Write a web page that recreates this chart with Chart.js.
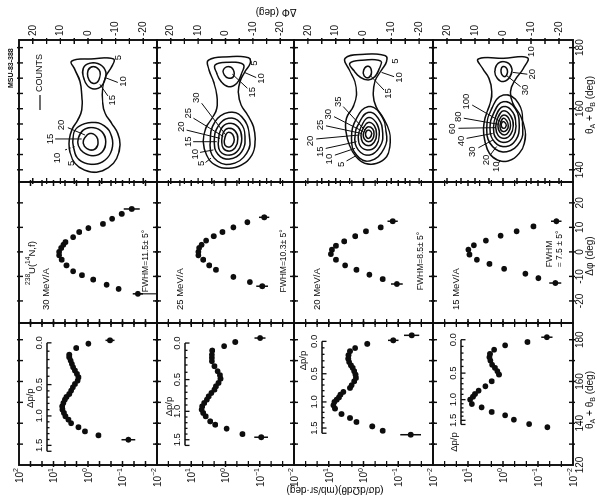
<!DOCTYPE html>
<html>
<head>
<meta charset="utf-8">
<title>238U(14N,f) fission fragment correlations</title>
<script src="https://cdn.jsdelivr.net/npm/chart.js@4.4.1/dist/chart.umd.min.js"></script>
<style>
  html, body { margin: 0; padding: 0; background: #fff; overflow: hidden; }
  /* figure is laid out upright, then turned a quarter turn */
  #fig { position: absolute; left: 0; top: 502px; width: 502px; height: 597px;
         transform-origin: 0 0; transform: rotate(-90deg); background: #fff; }
  #fig canvas { position: absolute; left: 0; top: 0; }
</style>
</head>
<body>
<div id="fig"></div>
<script>
// beam energies (MeV/A), one row each, top to bottom
const energies = [30, 25, 20, 15];
const fwhm = ['11.5', '10.3', '8.5', '7.5'];

// folding angle distributions: θA+θB (deg) and dσ/dΩdθ (mb/sr·deg)
const fold30 = [132.1,134.2,136.1,138.1,140.0,141.7,143.3,144.9,146.5,148.1,149.7,151.3,152.6,154.0,155.6,157.2,158.8,160.4,162.0,163.6,165.2,166.8,168.4,170.0,171.6,172.8,176.0,178.1,179.7];
const foldCs30 = [0.068,0.50,1.23,1.9,3.1,3.7,4.5,5.0,5.5,5.6,5.2,4.7,4.2,3.5,3.1,2.75,2.4,2.0,1.9,2.1,2.4,2.7,2.95,3.2,3.5,3.5,2.2,0.98,0.23];
const fold25 = [133.3,134.8,137.4,139.3,140.9,143.3,144.9,146.5,148.1,149.7,151.3,152.9,154.5,156.1,157.7,159.3,161.3,163.0,164.9,167.3,169.7,171.3,172.8,174.8,176.9,178.9,180.8];
const foldCs25 = [0.091,0.32,0.93,2.0,2.8,3.8,4.5,5.0,4.8,4.2,3.5,3.1,2.6,2.1,1.9,1.6,1.4,1.45,1.7,2.1,2.5,2.5,2.5,2.45,1.1,0.52,0.098];
const fold20 = [134.5,136.4,138.5,140.6,142.5,144.4,147.0,148.6,150.2,151.3,152.4,153.7,155.0,156.9,158.2,160.1,161.7,163.3,164.9,166.5,167.7,169.3,170.9,172.6,174.5,176.0,178.0,179.7,182.1];
const foldCs20 = [0.044,0.28,0.56,1.6,2.45,4.3,6.6,7.4,6.9,5.9,5.1,4.6,3.8,2.45,2.2,1.85,1.65,1.7,1.85,2.05,2.3,2.6,2.75,2.7,2.45,1.75,0.78,0.14,0.041];
const fold15 = [138.1,139.6,141.7,143.8,145.4,147.6,149.2,151.3,152.7,154.0,155.6,157.7,160.1,163.3,164.9,166.5,168.0,170.0,171.6,173.2,175.2,177.3,178.9,181.2];
const foldCs15 = [0.054,0.18,0.49,0.87,2.1,4.1,7.8,8.7,7.2,6.3,5.0,3.2,2.1,1.3,1.45,1.7,2.05,2.3,2.45,2.35,1.8,0.87,0.20,0.056];
// error bars: [point index, half length in decades]
const foldBars30 = [[0, 0.2], [28, 0.13]];
const foldBars25 = [[0, 0.2], [26, 0.16]];
const foldBars20 = [[0, 0.3], [27, 0.15], [28, 0.22]];
const foldBars15 = [[23, 0.16]];

// out-of-plane distributions: Δφ (deg) and dσ/dΩdθ
const phi30 = [-17.1,-15.1,-13.4,-11.3,-9.5,-7.9,-5.5,-3.2,-1.4,0,1.6,2.9,4.0,6.0,8.1,9.7,11.4,13.5,15.5,17.5];
const phiCs30 = [0.036,0.13,0.29,0.71,1.5,2.7,4.2,5.8,6.9,6.9,6.0,5.2,4.5,2.7,1.8,0.98,0.37,0.20,0.105,0.054];
const phi25 = [-14.0,-12.3,-10.2,-7.3,-5.5,-3.2,-1.4,0,1.6,2.9,4.6,6.4,8.1,10.0,12.1,14.1];
const phiCs25 = [0.085,0.195,0.59,1.9,3.0,4.5,6.2,6.2,5.9,5.0,3.7,2.2,1.23,0.59,0.23,0.074];
const phi20 = [-13.1,-11.1,-9.3,-7.3,-5.5,-3.2,-0.9,0.9,2.5,4.3,6.4,8.4,10.0,12.5];
const phiCs20 = [0.11,0.28,0.68,1.6,3.4,6.2,8.7,8.1,6.2,3.6,1.74,0.85,0.32,0.145];
const phi15 = [-12.7,-10.7,-8.9,-6.9,-4.9,-3.2,-1.1,0.9,2.7,4.6,6.6,8.4,10.4,12.5];
const phiCs15 = [0.032,0.098,0.23,0.93,2.45,5.6,9.1,9.8,6.8,3.1,1.17,0.41,0.135,0.030];
const phiBars30 = [[0, 0.15], [19, 0.23]];
const phiBars25 = [[0, 0.17], [15, 0.15]];
const phiBars20 = [[0, 0.17], [13, 0.15]];
const phiBars15 = [[0, 0.17], [13, 0.15]];

// Δp/p scale laid along θA+θB: labelled values and their folding angles
const dppLabels = [0, 0.5, 1.0, 1.5];
const dppEnd = 1.6;
const dppAt30 = [178.5, 158.5, 143.5, 129.4];
const dppAt25 = [178.4, 160.9, 145.7, 132.1];
const dppAt20 = [179.2, 163.7, 150.2, 137.7];
const dppAt15 = [180.0, 164.0, 151.3, 141.4];

// count contours, points are [θA+θB, Δφ]
const map30 = [
  [[175.6,5.9],[176.3,-1.3],[176.3,-9.2],[173.8,-8.6],[170.5,-6.4],[166.7,-5.3],[162.3,-5.3],[158.5,-6.2],[155.2,-8.6],[151.9,-10.8],[148.1,-11.6],[143.7,-10.4],[140.7,-7.4],[139.2,-3.1],[139.9,1.3],[142.1,4.7],[145.7,6.5],[149.8,6.8],[153.4,5.7],[156.3,3.7],[159.6,2.3],[164.5,2.3],[168.9,2.9],[172.7,4.7]],
  [[173.2,1.7],[174.9,-0.7],[174.5,-4.3],[172.1,-6.4],[168.9,-5.9],[166.7,-3.7],[166.9,-0.7],[169.4,1.3]],
  [[172.7,-0.1],[173.8,-1.9],[172.7,-4.0],[170.5,-4.3],[168.5,-3.1],[168.6,-1.1],[170.5,0.1]],
  [[151.4,5.3],[154.1,3.5],[155.5,-1.3],[154.4,-5.9],[150.8,-8.6],[146.5,-8.6],[143.2,-6.2],[141.8,-2.3],[142.7,2.3],[145.4,4.7]],
  [[150.3,3.5],[153.0,1.7],[153.8,-1.9],[152.3,-5.2],[149.2,-6.4],[145.9,-5.2],[144.6,-1.9],[145.7,1.7],[147.9,3.5]],
  [[150.3,1.3],[151.9,-0.7],[150.8,-3.1],[148.1,-3.5],[146.5,-1.9],[147.0,0.5],[148.7,1.7]]
];
const map25 = [
  [[175.9,6.2],[177.0,-1.1],[176.7,-8.4],[174.9,-9.0],[172.1,-7.1],[168.9,-5.3],[165.0,-4.7],[161.2,-5.7],[157.9,-8.1],[154.1,-10.2],[149.2,-10.8],[144.8,-9.6],[141.6,-5.9],[140.5,-1.1],[141.6,3.8],[144.8,6.9],[149.2,8.1],[153.6,7.2],[156.8,5.0],[160.1,3.2],[164.5,3.2],[168.9,4.4],[172.7,6.0]],
  [[174.3,3.8],[175.2,-1.1],[174.5,-6.5],[171.6,-5.9],[168.3,-4.1],[167.2,-1.1],[168.9,1.6],[171.6,3.2]],
  [[172.7,0.8],[173.8,-1.1],[172.7,-2.9],[170.5,-2.9],[170.0,-1.1],[171.0,0.4]],
  [[158.8,-1.1],[157.4,-5.9],[151.4,-8.7],[145.4,-7.7],[141.8,-1.7],[143.8,4.1],[149.2,5.6],[155.8,3.8]],
  [[156.9,-1.1],[155.5,-5.3],[150.9,-7.1],[145.9,-5.9],[143.5,-1.3],[145.1,2.8],[149.4,4.1],[154.4,2.6]],
  [[155.2,-1.1],[154.1,-4.5],[150.3,-5.9],[146.5,-4.7],[144.8,-1.4],[146.1,2.0],[149.4,2.6],[153.4,1.6]],
  [[153.6,-1.1],[152.7,-3.5],[150.1,-4.5],[147.2,-3.5],[146.1,-1.4],[147.0,0.8],[149.4,1.4],[152.3,0.8]],
  [[152.3,-1.1],[151.6,-2.6],[149.8,-3.2],[148.1,-2.5],[147.4,-1.3],[148.1,0.2],[149.8,0.4],[151.4,-0.1]]
];
const map20 = [
  [[176.5,6.6],[177.8,0.1],[177.4,-7.7],[175.4,-8.3],[172.7,-6.5],[168.9,-4.1],[164.5,-3.5],[160.7,-4.5],[156.9,-7.1],[152.5,-9.3],[148.1,-9.5],[144.3,-8.3],[142.1,-4.7],[142.1,-0.5],[144.3,2.7],[148.1,5.1],[152.5,6.3],[156.9,6.1],[160.7,3.7],[164.5,2.5],[168.9,3.1],[172.7,5.1]],
  [[174.9,4.9],[175.9,0.1],[175.6,-6.2],[173.2,-5.7],[170.5,-4.1],[169.4,-1.7],[170.2,1.0],[172.4,3.4]],
  [[173.4,-0.5],[173.8,-2.1],[172.1,-2.9],[170.5,-2.3],[170.2,-0.9],[171.6,0.1]],
  [[160.7,-1.7],[158.5,-5.9],[152.5,-8.1],[147.0,-7.4],[142.9,-2.3],[144.8,2.5],[150.3,4.3],[156.9,2.5]],
  [[158.8,-1.7],[156.9,-5.3],[151.9,-6.9],[147.6,-5.9],[144.8,-2.1],[146.5,1.9],[150.9,3.1],[155.5,1.5]],
  [[157.1,-1.7],[155.5,-4.5],[151.6,-5.7],[148.1,-4.7],[146.5,-2.1],[147.6,1.0],[150.9,1.9],[154.4,0.7]],
  [[155.5,-1.7],[154.4,-3.9],[151.6,-4.7],[149.0,-3.8],[147.9,-1.9],[149.0,0.3],[151.4,0.9],[153.6,0.1]],
  [[154.1,-1.7],[153.4,-3.3],[151.6,-3.8],[149.8,-3.1],[149.2,-1.7],[150.1,-0.3],[151.6,0.1],[153.0,-0.5]],
  [[153.0,-1.7],[152.5,-2.7],[151.6,-2.9],[150.5,-2.3],[150.3,-1.5],[151.1,-0.8],[152.2,-0.8]]
];
const map15 = [
  [[176.3,8.8],[176.5,-0.1],[176.7,-8.7],[173.2,-7.3],[169.4,-4.3],[165.6,-2.7],[161.8,-3.5],[157.9,-6.1],[153.0,-7.9],[148.6,-7.6],[145.4,-5.8],[142.9,-1.9],[143.2,2.0],[145.4,4.9],[149.2,6.4],[153.6,7.0],[157.9,6.1],[161.8,4.6],[165.6,4.0],[169.9,5.0],[173.2,7.3]],
  [[174.9,1.7],[175.2,-1.3],[173.2,-3.1],[170.5,-2.5],[168.9,-0.1],[169.9,2.0],[172.4,2.9]],
  [[173.8,0.1],[173.2,-1.3],[171.6,-1.5],[170.5,-0.7],[171.3,0.5],[172.7,0.7]],
  [[164.5,-0.1],[161.8,-5.5],[154.7,-7.0],[149.2,-6.1],[145.9,-1.3],[147.6,3.7],[153.0,5.8],[160.1,4.0]],
  [[162.3,-0.1],[160.1,-4.3],[154.4,-5.8],[149.8,-4.6],[147.6,-1.1],[149.0,2.9],[153.4,4.6],[158.8,3.2]],
  [[160.7,-0.1],[158.8,-3.5],[154.4,-4.6],[150.9,-3.7],[149.0,-0.9],[150.1,2.3],[153.6,3.4],[157.7,2.5]],
  [[159.3,-0.1],[157.7,-2.7],[154.4,-3.7],[151.6,-2.7],[150.3,-0.7],[151.2,1.7],[153.8,2.6],[156.9,1.9]],
  [[157.9,-0.1],[156.9,-2.0],[154.4,-2.7],[152.3,-1.9],[151.4,-0.5],[152.3,1.1],[154.1,1.8],[156.3,1.3]],
  [[156.9,-0.1],[156.1,-1.3],[154.4,-1.9],[153.0,-1.3],[152.5,-0.2],[153.1,0.8],[154.4,1.1],[155.8,0.7]],
  [[155.8,-0.1],[155.2,-0.9],[154.3,-1.1],[153.6,-0.5],[153.9,0.4],[154.9,0.6]]
];

// contour level labels: [text, θ, Δφ, leader from θ, Δφ, to θ, Δφ, dashed]
const notes30 = [
  ['5', 176.7, -11.0],
  ['10', 168.9, -12.8, 170.2, -6.2, 168.6, -10.8],
  ['15', 162.8, -8.8, 168.0, -4.3, 164.2, -7.2],
  ['20', 154.7, 9.5, 153.8, 7.3, 151.4, 1.1],
  ['15', 150.1, 13.6, 150.1, 11.9, 150.1, 2.3],
  ['10', 143.9, 11.0, 146.5, 8.3, 147.6, 4.9, true],
  ['5', 142.1, 5.9]
];
const notes25 = [
  ['5', 174.9, -10.5],
  ['10', 169.9, -13.0, 171.9, -6.9, 170.2, -11.2],
  ['15', 165.4, -9.8, 171.3, -2.5, 166.7, -8.0],
  ['30', 163.6, 10.5, 161.8, 8.7, 151.4, -0.1],
  ['25', 158.5, 13.5, 156.9, 11.7, 150.9, 0.8],
  ['20', 154.1, 16.0, 153.0, 14.2, 150.3, 2.0],
  ['15', 149.2, 13.6, 149.2, 11.8, 149.2, 3.2],
  ['10', 145.1, 11.1, 145.7, 9.3, 146.5, 4.4],
  ['5', 142.1, 8.7, 142.4, 7.3, 143.8, 5.3]
];
const notes20 = [
  ['5', 175.6, -11.3],
  ['10', 170.2, -12.9, 171.9, -6.5, 170.5, -11.0],
  ['15', 165.0, -8.9, 171.0, -2.3, 166.1, -7.4],
  ['35', 162.3, 9.0, 160.7, 7.3, 153.0, -0.5],
  ['30', 158.2, 12.7, 157.4, 10.6, 152.5, 0.1],
  ['25', 154.7, 15.6, 154.4, 13.5, 151.9, 0.7],
  ['20', 149.4, 19.2, 150.1, 17.0, 151.4, 1.5],
  ['15', 145.9, 15.6, 147.0, 13.6, 149.2, 2.5],
  ['10', 143.5, 12.3, 144.8, 10.3, 147.0, 3.1],
  ['5', 141.8, 7.9, 142.9, 6.1, 144.6, 2.7]
];
const notes15 = [
  ['10', 178.7, -10.2],
  ['20', 171.3, -10.6, 171.9, -3.5, 171.3, -8.7],
  ['30', 166.1, -7.9, 171.0, -1.1, 167.2, -6.3],
  ['100', 162.3, 13.0, 161.2, 11.0, 155.8, 0.8],
  ['80', 157.4, 16.0, 156.9, 14.0, 154.9, 1.7],
  ['60', 153.4, 18.0, 153.6, 15.9, 153.8, 2.5],
  ['40', 149.4, 14.8, 150.3, 13.0, 151.9, 3.7],
  ['30', 145.9, 10.8, 147.2, 8.8, 149.8, 3.5],
  ['20', 143.2, 6.1, 144.8, 4.6, 147.6, 2.3],
  ['10', 141.0, 2.3, 142.2, 1.6, 143.1, 1.0]
];

// axis ticks
const foldTicks = [130, 140, 150, 160, 170, 180];
const foldTickLabels = [120, 140, 160, 180];
const phiTicks = [-20, -10, 0, 10, 20];
const phiTickLabels = ['-20', '-10', '0', '10', '20'];
const mapThTicks = [140, 145, 150, 155, 160, 165, 170, 175, 180];
const mapThLabels = [140, 160, 180];
const mapPhiTicks = [-20, -15, -10, -5, 0, 5, 10, 15, 20];
const mapPhiLabels = ['20', '10', '0', '-10', '-20'];
const logTickExp = [-5, -4, -3, -2, -1, 0, 1, 2, 3, 4, 5];   // thirds of a decade
const logLabels = [[100, '2'], [10, '1'], [1, '0'], [0.1, '\u22121'], [0.01, '\u22122']];

const foldX = [fold30, fold25, fold20, fold15];
const foldY = [foldCs30, foldCs25, foldCs20, foldCs15];
const foldBars = [foldBars30, foldBars25, foldBars20, foldBars15];
const phiX = [phi30, phi25, phi20, phi15];
const phiY = [phiCs30, phiCs25, phiCs20, phiCs15];
const phiBars = [phiBars30, phiBars25, phiBars20, phiBars15];
const dppAt = [dppAt30, dppAt25, dppAt20, dppAt15];
const maps = [map30, map25, map20, map15];
const mapNotes = [notes30, notes25, notes20, notes15];

const ink = '#0d0d0d';
const FONT = '"Liberation Sans", "DejaVu Sans", Arial, sans-serif';
const W = 502, H = 597;
const colX = { fold: [37, 179], phi: [179, 320], map: [320, 462] };
const rowY = [[19, 157], [157, 294], [294, 433], [433, 573]];
const labelY = 580;
const fig = document.getElementById('fig');

// text made of plain / superscript / subscript pieces
function rich(ctx, segs, x, y, size, align, rot) {
  let w = 0;
  const parts = segs.map(([t, k]) => {
    const s = k ? size * 0.7 : size;
    ctx.font = s + 'px ' + FONT;
    const m = ctx.measureText(t).width;
    w += m;
    return { t, k, s, m };
  });
  ctx.save();
  ctx.translate(x, y);
  if (rot) ctx.rotate(rot);
  let cx = align === 'center' ? -w / 2 : align === 'right' ? -w : 0;
  ctx.fillStyle = ink;
  ctx.textAlign = 'left';
  ctx.textBaseline = 'middle';
  for (const p of parts) {
    ctx.font = p.s + 'px ' + FONT;
    const dy = p.k === 'sup' ? -size * 0.38 : p.k === 'sub' ? size * 0.3 : 0;
    ctx.fillText(p.t, cx, dy);
    cx += p.m;
  }
  ctx.restore();
}

function frame(ctx, a, sx, sy, xt, yt) {
  ctx.strokeStyle = ink;
  ctx.lineWidth = 1.9;
  ctx.strokeRect(a.left, a.top, a.right - a.left, a.bottom - a.top);
  ctx.lineWidth = 1.4;
  ctx.beginPath();
  for (const v of xt) {
    const p = sx.getPixelForValue(v);
    ctx.moveTo(p, a.top - 2); ctx.lineTo(p, a.top + 4);
    ctx.moveTo(p, a.bottom + 2); ctx.lineTo(p, a.bottom - 4);
  }
  for (const v of yt) {
    const p = sy.getPixelForValue(v);
    ctx.moveTo(a.left - 2, p); ctx.lineTo(a.left + 4, p);
    ctx.moveTo(a.right + 2, p); ctx.lineTo(a.right - 4, p);
  }
  ctx.stroke();
}

function errorBars(ctx, sx, sy, xs, ys, bars) {
  ctx.strokeStyle = ink;
  ctx.lineWidth = 1.5;
  ctx.beginPath();
  for (const [i, d] of bars) {
    const px = sx.getPixelForValue(xs[i]);
    ctx.moveTo(px, sy.getPixelForValue(ys[i] * Math.pow(10, d)));
    ctx.lineTo(px, sy.getPixelForValue(ys[i] / Math.pow(10, d)));
  }
  ctx.stroke();
}

// the little Δp/p scale drawn inside a folding-angle panel
function dppScale(ctx, a, sx, at, title) {
  const th = v => {
    const k = Math.min(Math.floor(v / 0.5), dppLabels.length - 2);
    return at[k] + (v - dppLabels[k]) / 0.5 * (at[k + 1] - at[k]);
  };
  const px = v => sx.getPixelForValue(th(v));
  const y = a.top + 28;
  ctx.strokeStyle = ink;
  ctx.lineWidth = 1.3;
  ctx.beginPath();
  ctx.moveTo(px(0), y);
  ctx.lineTo(px(dppEnd), y);
  for (let i = 0; i <= 16; i++) {
    const v = i / 10;
    const len = (i % 5 === 0 || i === 16) ? 4.5 : 2.5;
    ctx.moveTo(px(v), y);
    ctx.lineTo(px(v), y + len);
  }
  ctx.stroke();
  ctx.fillStyle = ink;
  ctx.font = '9.5px ' + FONT;
  ctx.textAlign = 'center';
  ctx.textBaseline = 'middle';
  dppLabels.forEach(v => ctx.fillText(v.toFixed(1), px(v), y - 7.5));
  ctx.fillText('\u0394p/p', sx.getPixelForValue(title[0]), a.top + title[1]);
}

function notesOn(ctx, sx, sy, notes) {
  ctx.strokeStyle = ink;
  ctx.fillStyle = ink;
  ctx.lineWidth = 1;
  for (const [t, x, y, x1, y1, x2, y2, dashed] of notes) {
    if (x1 !== undefined) {
      ctx.setLineDash(dashed ? [2, 2] : []);
      ctx.beginPath();
      ctx.moveTo(sx.getPixelForValue(x1), sy.getPixelForValue(y1));
      ctx.lineTo(sx.getPixelForValue(x2), sy.getPixelForValue(y2));
      ctx.stroke();
      ctx.setLineDash([]);
    }
    ctx.font = '9.5px ' + FONT;
    ctx.textAlign = 'center';
    ctx.textBaseline = 'middle';
    ctx.fillText(t, sx.getPixelForValue(x), sy.getPixelForValue(y));
  }
}

function addChart(col, row, datasets, xScale, yScale, draw) {
  const c = document.createElement('canvas');
  c.width = W;
  c.height = H;
  fig.appendChild(c);
  const [x0, x1] = colX[col], [y0, y1] = rowY[row];
  return new Chart(c, {
    type: 'scatter',
    data: { datasets },
    options: {
      responsive: false,
      animation: false,
      events: [],
      layout: { padding: { left: x0, right: W - x1, top: y0, bottom: H - y1 } },
      plugins: { legend: { display: false }, tooltip: { enabled: false } },
      scales: {
        x: Object.assign({ display: false }, xScale),
        y: Object.assign({ display: false }, yScale)
      }
    },
    plugins: [{
      id: 'panelDeco',
      afterDatasetsDraw: ch => draw(ch.ctx, ch.chartArea, ch.scales.x, ch.scales.y)
    }]
  });
}

function dots(xs, ys) {
  return {
    data: xs.map((x, i) => ({ x, y: ys[i] })),
    pointRadius: 2.9,
    pointBackgroundColor: ink,
    pointBorderWidth: 0,
    showLine: false,
    clip: false
  };
}

// closed contour: wrap three points so the spline joins smoothly, hide the overlap
function ring(pts) {
  const n = pts.length;
  const wrapped = pts.concat([pts[0], pts[1], pts[2]]);
  return {
    data: wrapped.map(([x, y]) => ({ x, y })),
    showLine: true,
    pointRadius: 0,
    borderColor: ink,
    borderWidth: 1.5,
    tension: 0.45,
    segment: {
      borderColor: s => (s.p0DataIndex === 0 || s.p1DataIndex === n + 2) ? 'rgba(0,0,0,0)' : ink
    }
  };
}

const logY = { type: 'logarithmic', min: 0.01, max: 100 };
const logTicks = logTickExp.map(k => Math.pow(10, k / 3));
const thetaTitle = [['\u03b8'], ['A', 'sub'], [' + \u03b8'], ['B', 'sub'], [' (deg)']];
const dppTitle = [[152, 11], [148, 12], [170, 9], [131, 21]];

energies.forEach((e, r) => {
  // folding angle
  addChart('fold', r, [dots(foldX[r], foldY[r])], { type: 'linear', min: 120, max: 188 }, logY,
    (ctx, a, sx, sy) => {
      frame(ctx, a, sx, sy, foldTicks, logTicks);
      errorBars(ctx, sx, sy, foldX[r], foldY[r], foldBars[r]);
      dppScale(ctx, a, sx, dppAt[r], dppTitle[r]);
      logLabels.forEach(([v, ex]) => {
        if (r > 0 && v === 100) return;
        rich(ctx, [['10'], [ex, 'sup']], a.left - 3, sy.getPixelForValue(v) + 1, 10, 'right');
      });
      if (r === 3) {
        ctx.fillStyle = ink;
        ctx.font = '10px ' + FONT;
        ctx.textAlign = 'center';
        ctx.textBaseline = 'middle';
        foldTickLabels.forEach(v => ctx.fillText(String(v), sx.getPixelForValue(v), labelY));
        rich(ctx, thetaTitle, 102, 590, 10, 'center');
      }
      if (r === 0) {
        ctx.fillStyle = ink;
        ctx.font = 'bold 7px ' + FONT;
        ctx.textAlign = 'left';
        ctx.textBaseline = 'middle';
        ctx.fillText('MSU-83-388', 414, 11);
        rich(ctx, [['(d\u03c3/d\u03a9d\u03b8)(mb/sr\u00b7deg)']], 12, 335, 10, 'center', -Math.PI / 2);
        rich(ctx, [['\u0394\u03a6 (deg)']], 490, 276, 10, 'center', -Math.PI / 2);
      }
    });

  // out-of-plane angle
  addChart('phi', r, [dots(phiX[r], phiY[r])], { type: 'linear', min: -29, max: 28.5 }, logY,
    (ctx, a, sx, sy) => {
      frame(ctx, a, sx, sy, phiTicks, logTicks);
      errorBars(ctx, sx, sy, phiX[r], phiY[r], phiBars[r]);
      ctx.fillStyle = ink;
      ctx.textBaseline = 'middle';
      ctx.textAlign = 'left';
      ctx.font = '9.5px ' + FONT;
      if (r === 0) {
        rich(ctx, [['238', 'sup'], ['U('], ['14', 'sup'], ['N,f)']], a.left + 38, a.top + 13, 9.5, 'left');
        ctx.font = '9.5px ' + FONT;
        ctx.fillText(e + ' MeV/A', a.left + 13, a.top + 27);
        // vertical marker from the last point down to the axis
        const px = sx.getPixelForValue(phiX[r][0]);
        ctx.strokeStyle = ink;
        ctx.lineWidth = 1.1;
        ctx.beginPath();
        ctx.moveTo(px, sy.getPixelForValue(phiY[r][0]));
        ctx.lineTo(px, a.bottom);
        ctx.stroke();
      } else {
        ctx.fillText(e + ' MeV/A', a.left + 13, a.top + 23);
      }
      ctx.font = '8.5px ' + FONT;
      ctx.textAlign = 'center';
      if (r === 3) {
        ctx.fillText('FWHM', a.left + 69, a.top + 117);
        ctx.fillText('= ' + fwhm[r] + ' \u00b1 5\u00b0', a.left + 74, a.top + 127);
        ctx.font = '10px ' + FONT;
        phiTicks.forEach((v, i) => ctx.fillText(phiTickLabels[i], sx.getPixelForValue(v), labelY));
        rich(ctx, [['\u0394\u03c6 (deg)']], 246, 590, 10, 'center');
      } else {
        ctx.fillText('FWHM=' + fwhm[r] + '\u00b1 5\u00b0', a.left + 62, a.top + 127);
      }
    });

  // counts map
  addChart('map', r, maps[r].map(ring), { type: 'linear', min: 136, max: 182.5 }, { type: 'linear', min: -25, max: 25 },
    (ctx, a, sx, sy) => {
      frame(ctx, a, sx, sy, mapThTicks, mapPhiTicks);
      notesOn(ctx, sx, sy, mapNotes[r]);
      ctx.fillStyle = ink;
      ctx.font = '10px ' + FONT;
      ctx.textAlign = 'left';
      ctx.textBaseline = 'middle';
      [20, 10, 0, -10, -20].forEach((v, i) => ctx.fillText(mapPhiLabels[i], a.right + 4, sy.getPixelForValue(v)));
      if (r === 0) {
        ctx.strokeStyle = ink;
        ctx.lineWidth = 1.2;
        ctx.beginPath();
        ctx.moveTo(a.left + 72, a.top + 21);
        ctx.lineTo(a.left + 87, a.top + 21);
        ctx.stroke();
        ctx.font = '9px ' + FONT;
        ctx.fillText('COUNTS', a.left + 90, a.top + 21);
      }
      if (r === 3) {
        ctx.textAlign = 'center';
        ctx.font = '10px ' + FONT;
        mapThLabels.forEach(v => ctx.fillText(String(v), sx.getPixelForValue(v), labelY));
        rich(ctx, thetaTitle, 397, 590, 10, 'center');
      }
    });
});
</script>
</body>
</html>
